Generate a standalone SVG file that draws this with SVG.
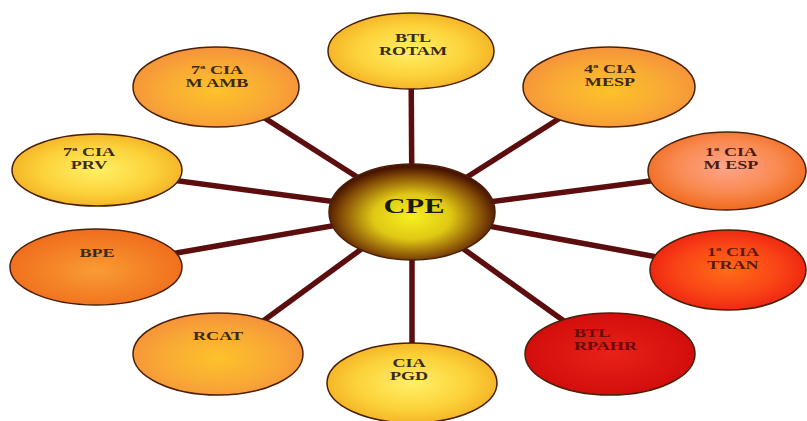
<svg xmlns="http://www.w3.org/2000/svg" width="807" height="421" viewBox="0 0 807 421">
<style>
.n{stroke:#4a2008;stroke-width:1.5}
.t{font-family:"Liberation Serif","Times New Roman",serif;font-weight:bold;font-size:12.5px;fill:#3a2a10;text-anchor:middle}
.c line{stroke:#5c0e0e;stroke-width:5.5;stroke-linecap:butt}
</style>
<defs>
<radialGradient id="gY" cx="50%" cy="50%" r="55%"><stop offset="0" stop-color="#fff066"/><stop offset="0.6" stop-color="#fcd23a"/><stop offset="1" stop-color="#f3ae22"/></radialGradient>
<radialGradient id="gO" cx="50%" cy="55%" r="55%"><stop offset="0" stop-color="#fdc22a"/><stop offset="0.6" stop-color="#f9a935"/><stop offset="1" stop-color="#f5923a"/></radialGradient>
<radialGradient id="gP" cx="50%" cy="45%" r="55%"><stop offset="0" stop-color="#ffa58a"/><stop offset="0.6" stop-color="#f98a50"/><stop offset="1" stop-color="#f06a1e"/></radialGradient>
<radialGradient id="gB" cx="50%" cy="55%" r="55%"><stop offset="0" stop-color="#f99c32"/><stop offset="1" stop-color="#f06c1c"/></radialGradient>
<radialGradient id="gR" cx="50%" cy="50%" r="55%"><stop offset="0" stop-color="#ff6c18"/><stop offset="0.6" stop-color="#f94416"/><stop offset="1" stop-color="#ec2010"/></radialGradient>
<radialGradient id="gD" cx="50%" cy="50%" r="55%"><stop offset="0" stop-color="#e82218"/><stop offset="1" stop-color="#d00c0c"/></radialGradient>
<radialGradient id="gC" cx="50%" cy="55%" r="52%"><stop offset="0" stop-color="#f5f020"/><stop offset="0.45" stop-color="#e0c814"/><stop offset="0.8" stop-color="#8a5408"/><stop offset="1" stop-color="#4a1400"/></radialGradient>
</defs>
<g class="c" id="connectors">
<line x1="412" y1="212" x2="411" y2="51"/>
<line x1="412" y1="212" x2="216" y2="87"/>
<line x1="412" y1="212" x2="609" y2="87"/>
<line x1="412" y1="212" x2="97" y2="170"/>
<line x1="412" y1="212" x2="727" y2="171"/>
<line x1="412" y1="212" x2="96" y2="267"/>
<line x1="412" y1="212" x2="728" y2="270"/>
<line x1="412" y1="212" x2="218" y2="354"/>
<line x1="412" y1="212" x2="610" y2="354"/>
<line x1="412" y1="212" x2="412" y2="383"/>
</g>
<g id="cpe"><ellipse class="n" cx="412" cy="212" rx="83" ry="48" fill="url(#gC)"/>
<text class="t" transform="translate(414,213) scale(1.45,1)" style="font-size:21px;fill:#1a1a08">CPE</text></g>
<g id="btl-rotam"><ellipse class="n" cx="411" cy="51" rx="83" ry="38" fill="url(#gY)"/>
<text class="t" transform="translate(413,42) scale(1.45,1)"><tspan x="0">BTL</tspan><tspan x="0" dy="13">ROTAM</tspan></text></g>
<g id="cia-m-amb"><ellipse class="n" cx="216" cy="87" rx="83" ry="40" fill="url(#gO)"/>
<text class="t" transform="translate(217,74) scale(1.45,1)"><tspan x="0">7ª CIA</tspan><tspan x="0" dy="13">M AMB</tspan></text></g>
<g id="cia-mesp"><ellipse class="n" cx="609" cy="87" rx="86" ry="40" fill="url(#gO)"/>
<text class="t" transform="translate(610,73) scale(1.45,1)"><tspan x="0">4ª CIA</tspan><tspan x="0" dy="13">MESP</tspan></text></g>
<g id="cia-prv"><ellipse class="n" cx="97" cy="170" rx="85" ry="36" fill="url(#gY)"/>
<text class="t" transform="translate(89,156) scale(1.45,1)"><tspan x="0">7ª CIA</tspan><tspan x="0" dy="13">PRV</tspan></text></g>
<g id="cia-m-esp"><ellipse class="n" cx="727" cy="171" rx="79" ry="39" fill="url(#gP)"/>
<text class="t" transform="translate(731,156) scale(1.45,1)" style="fill:#4a1a10"><tspan x="0">1ª CIA</tspan><tspan x="0" dy="13">M ESP</tspan></text></g>
<g id="bpe"><ellipse class="n" cx="96" cy="267" rx="86" ry="38" fill="url(#gB)"/>
<text class="t" transform="translate(97,257) scale(1.45,1)">BPE</text></g>
<g id="cia-tran"><ellipse class="n" cx="728" cy="270" rx="78" ry="40" fill="url(#gR)"/>
<text class="t" transform="translate(733,256) scale(1.45,1)" style="fill:#5a1a10"><tspan x="0">1ª CIA</tspan><tspan x="0" dy="13">TRAN</tspan></text></g>
<g id="rcat"><ellipse class="n" cx="218" cy="354" rx="85" ry="41" fill="url(#gO)"/>
<text class="t" transform="translate(218,340) scale(1.45,1)">RCAT</text></g>
<g id="btl-rpahr"><ellipse class="n" cx="610" cy="354" rx="85" ry="41" fill="url(#gD)"/>
<text class="t" transform="translate(574,337) scale(1.45,1)" style="text-anchor:start;fill:#6a0808"><tspan x="0">BTL</tspan><tspan x="0" dy="13">RPAHR</tspan></text></g>
<g id="cia-pgd"><ellipse class="n" cx="412" cy="383" rx="85" ry="40" fill="url(#gY)"/>
<text class="t" transform="translate(409,367) scale(1.45,1)"><tspan x="0">CIA</tspan><tspan x="0" dy="13">PGD</tspan></text></g>
</svg>
